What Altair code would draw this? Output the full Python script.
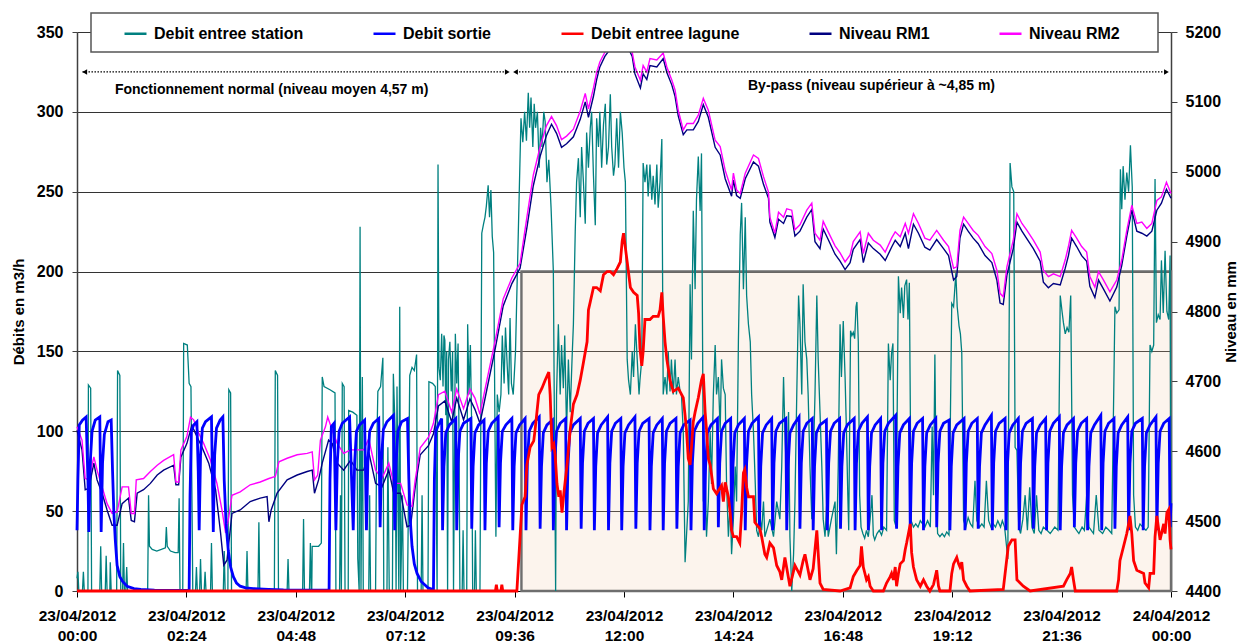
import altair as alt
import pandas as pd

FONT = "Liberation Sans"

NAMES = ["Debit entree station", "Debit sortie", "Debit entree lagune", "Niveau RM1", "Niveau RM2"]
COLORS = ["#008080", "#0000FF", "#FF0000", "#000080", "#FF00FF"]

# hours since 23/04/2012 00:00 , value
STATION = [
    (0.00, 8), (0.02, 12), (0.04, 0), (0.12, 0), (0.14, 12), (0.16, 0), (0.24, 0), (0.25, 129), (0.30, 127), (0.32, 0),
    (0.50, 0), (0.52, 28), (0.54, 0), (0.62, 0), (0.64, 22), (0.66, 0), (0.72, 0), (0.73, 18), (0.75, 0), (0.87, 0),
    (0.89, 138), (0.94, 135), (0.96, 0), (1.00, 0), (1.02, 30), (1.04, 0), (1.07, 0), (1.09, 15), (1.11, 0), (1.55, 0),
    (1.57, 60), (1.59, 28), (1.65, 26), (1.75, 25), (1.85, 26), (1.94, 27), (1.96, 40), (1.98, 28), (2.05, 25), (2.15, 24),
    (2.22, 24), (2.24, 58), (2.26, 0), (2.32, 0), (2.34, 155), (2.42, 154), (2.46, 130), (2.50, 128), (2.54, 0), (2.60, 0),
    (2.62, 15), (2.64, 0), (2.69, 0), (2.71, 20), (2.73, 0), (2.79, 0), (2.81, 12), (2.83, 0), (2.93, 0), (2.95, 30),
    (2.97, 0), (3.21, 0), (3.23, 25), (3.25, 0), (3.31, 0), (3.33, 126), (3.37, 124), (3.39, 0), (3.71, 0), (3.73, 25),
    (3.75, 0), (3.97, 0), (3.99, 43), (4.01, 0), (4.33, 0), (4.35, 138), (4.40, 135), (4.42, 0), (4.61, 0), (4.63, 20),
    (4.65, 0), (4.95, 0), (4.97, 45), (4.99, 0), (5.10, 0), (5.12, 30), (5.14, 0), (5.15, 0), (5.16, 28), (5.30, 28),
    (5.36, 30), (5.38, 134), (5.42, 128), (5.55, 126), (5.66, 124), (5.68, 0), (5.76, 0), (5.78, 60), (5.80, 0), (5.82, 130),
    (5.86, 128), (5.88, 0), (5.95, 0), (5.96, 113), (6.05, 112), (6.14, 110), (6.16, 20), (6.19, 0), (6.21, 228), (6.23, 0),
    (6.26, 134), (6.28, 0), (6.40, 0), (6.42, 60), (6.44, 0), (6.55, 0), (6.57, 80), (6.60, 125), (6.66, 128), (6.71, 146),
    (6.73, 0), (6.80, 0), (6.82, 90), (6.85, 0), (6.92, 0), (6.94, 136), (6.98, 100), (7.00, 0), (7.02, 128), (7.06, 0),
    (7.08, 178), (7.10, 0), (7.14, 60), (7.16, 0), (7.25, 0), (7.30, 135), (7.35, 140), (7.40, 138), (7.45, 148), (7.47, 0),
    (7.55, 0), (7.57, 60), (7.59, 0), (7.70, 0), (7.72, 131), (7.80, 130), (7.86, 128), (7.90, 0), (7.92, 267), (7.94, 140),
    (7.97, 132), (8.00, 161), (8.03, 128), (8.05, 160), (8.07, 157), (8.09, 110), (8.11, 150), (8.13, 0), (8.15, 145), (8.18, 156),
    (8.21, 125), (8.24, 150), (8.26, 0), (8.30, 161), (8.33, 130), (8.36, 155), (8.38, 100), (8.40, 0), (8.45, 0), (8.47, 38),
    (8.49, 0), (8.55, 0), (8.57, 167), (8.60, 123), (8.63, 154), (8.66, 100), (8.68, 0), (8.72, 0), (8.74, 38), (8.76, 0),
    (8.84, 0), (8.88, 224), (8.92, 230), (8.95, 234), (8.98, 241), (9.02, 254), (9.05, 234), (9.08, 251), (9.11, 222), (9.14, 212),
    (9.17, 100), (9.19, 34), (9.22, 123), (9.26, 112), (9.30, 123), (9.33, 160), (9.37, 130), (9.40, 165), (9.44, 140), (9.47, 123),
    (9.50, 171), (9.53, 130), (9.57, 123), (9.62, 150), (9.74, 296), (9.78, 281), (9.82, 300), (9.86, 282), (9.90, 312), (9.93, 290),
    (9.96, 309), (10.00, 278), (10.03, 305), (10.06, 290), (10.10, 300), (10.14, 265), (10.17, 290), (10.20, 278), (10.24, 300), (10.27, 294),
    (10.31, 256), (10.35, 270), (10.40, 240), (10.45, 200), (10.50, 0), (10.52, 123), (10.56, 167), (10.60, 123), (10.63, 154), (10.67, 127),
    (10.70, 160), (10.74, 100), (10.78, 145), (10.82, 112), (10.86, 145), (10.89, 167), (10.93, 225), (10.96, 256), (11.00, 271), (11.04, 234),
    (11.07, 278), (11.11, 256), (11.15, 230), (11.18, 287), (11.22, 265), (11.26, 290), (11.29, 300), (11.33, 260), (11.37, 229), (11.40, 296),
    (11.44, 278), (11.47, 300), (11.51, 265), (11.55, 292), (11.59, 305), (11.62, 267), (11.66, 278), (11.70, 311), (11.73, 278), (11.77, 260),
    (11.80, 267), (11.84, 296), (11.88, 265), (11.92, 300), (11.96, 287), (12.00, 265), (12.03, 256), (12.07, 145), (12.10, 132), (12.14, 123),
    (12.18, 150), (12.21, 134), (12.25, 167), (12.29, 145), (12.33, 123), (12.35, 132), (12.39, 145), (12.42, 268), (12.46, 256), (12.50, 267),
    (12.53, 247), (12.57, 267), (12.61, 245), (12.64, 260), (12.68, 242), (12.72, 267), (12.75, 240), (12.79, 256), (12.83, 283), (12.86, 123),
    (12.90, 134), (12.94, 123), (12.97, 150), (13.01, 125), (13.04, 145), (13.08, 123), (13.12, 145), (13.15, 123), (13.19, 134), (13.23, 125),
    (13.26, 123), (13.30, 100), (13.34, 18), (13.37, 34), (13.41, 56), (13.45, 192), (13.48, 145), (13.52, 238), (13.56, 189), (13.59, 245),
    (13.63, 272), (13.67, 238), (13.70, 274), (13.73, 123), (13.74, 56), (13.78, 78), (13.81, 34), (13.85, 56), (13.89, 100), (13.92, 67),
    (13.96, 123), (14.00, 154), (14.03, 123), (14.07, 134), (14.11, 100), (14.14, 145), (14.18, 127), (14.22, 123), (14.25, 67), (14.29, 34),
    (14.33, 56), (14.36, 23), (14.40, 45), (14.44, 78), (14.47, 56), (14.51, 157), (14.55, 223), (14.58, 243), (14.62, 189), (14.66, 234),
    (14.69, 185), (14.73, 167), (14.77, 156), (14.80, 123), (14.84, 100), (14.88, 67), (14.91, 38), (14.95, 34), (14.99, 45), (15.02, 38),
    (15.06, 56), (15.09, 34), (15.13, 38), (15.20, 45), (15.28, 34), (15.35, 56), (15.42, 45), (15.46, 78), (15.50, 134), (15.53, 100),
    (15.57, 67), (15.61, 112), (15.64, 34), (15.68, 0), (15.72, 23), (15.75, 56), (15.79, 123), (15.83, 185), (15.86, 167), (15.90, 123),
    (15.93, 192), (15.97, 156), (16.01, 145), (16.04, 123), (16.08, 78), (16.12, 45), (16.15, 78), (16.19, 123), (16.23, 185), (16.26, 145),
    (16.30, 112), (16.34, 78), (16.37, 45), (16.41, 34), (16.45, 56), (16.48, 34), (16.55, 45), (16.63, 56), (16.66, 23), (16.70, 78),
    (16.74, 167), (16.77, 134), (16.81, 169), (16.85, 134), (16.88, 100), (16.91, 60), (16.93, 38), (16.97, 163), (17.00, 160), (17.03, 162),
    (17.06, 158), (17.09, 178), (17.11, 181), (17.14, 156), (17.17, 60), (17.20, 40), (17.24, 36), (17.28, 33), (17.32, 38), (17.36, 34),
    (17.40, 45), (17.44, 60), (17.47, 35), (17.50, 32), (17.55, 36), (17.60, 38), (17.65, 35), (17.70, 40), (17.76, 38), (17.80, 155),
    (17.84, 132), (17.87, 149), (17.90, 155), (17.93, 44), (17.97, 40), (18.02, 197), (18.06, 174), (18.09, 190), (18.13, 171), (18.16, 191),
    (18.20, 195), (18.23, 170), (18.26, 193), (18.30, 44), (18.35, 40), (18.40, 42), (18.45, 40), (18.50, 44), (18.55, 42), (18.60, 40),
    (18.66, 44), (18.72, 40), (18.76, 103), (18.79, 60), (18.82, 148), (18.85, 60), (18.88, 36), (18.93, 34), (18.98, 36), (19.03, 34),
    (19.08, 37), (19.13, 35), (19.19, 180), (19.23, 178), (19.28, 199), (19.31, 178), (19.35, 166), (19.38, 161), (19.41, 149), (19.45, 44),
    (19.50, 40), (19.55, 46), (19.60, 42), (19.65, 40), (19.70, 69), (19.74, 44), (19.80, 40), (19.85, 42), (19.90, 40), (19.95, 69),
    (20.00, 44), (20.05, 40), (20.10, 42), (20.15, 40), (20.20, 44), (20.26, 40), (20.30, 44), (20.35, 40), (20.42, 20), (20.47, 268),
    (20.51, 253), (20.55, 250), (20.58, 90), (20.62, 88), (20.66, 40), (20.70, 36), (20.75, 45), (20.80, 60), (20.85, 38), (20.90, 65),
    (20.95, 40), (21.00, 36), (21.05, 60), (21.10, 38), (21.15, 36), (21.20, 40), (21.28, 38), (21.35, 36), (21.45, 40), (21.52, 38),
    (21.57, 185), (21.61, 175), (21.64, 168), (21.68, 161), (21.72, 165), (21.76, 162), (21.80, 185), (21.84, 60), (21.88, 40), (21.93, 38),
    (21.98, 36), (22.05, 40), (22.10, 38), (22.15, 60), (22.20, 40), (22.25, 38), (22.30, 36), (22.36, 60), (22.42, 38), (22.50, 36),
    (22.57, 40), (22.64, 38), (22.70, 36), (22.77, 178), (22.81, 174), (22.86, 176), (22.89, 264), (22.92, 239), (22.95, 266), (22.99, 245),
    (23.03, 262), (23.07, 250), (23.11, 279), (23.15, 253), (23.18, 60), (23.22, 40), (23.27, 38), (23.32, 42), (23.38, 40), (23.45, 38),
    (23.50, 40), (23.54, 154), (23.58, 150), (23.62, 154), (23.65, 258), (23.68, 168), (23.72, 173), (23.76, 170), (23.79, 207), (23.83, 174),
    (23.87, 213), (23.91, 175), (23.95, 170), (23.98, 210), (24.00, 40),
]

SORTIE = [
    (0.00, 38), (0.02, 70), (0.05, 104), (0.12, 107), (0.20, 109), (0.24, 70), (0.26, 37), (0.29, 80), (0.33, 100), (0.40, 107),
    (0.50, 109), (0.53, 37), (0.56, 80), (0.60, 98), (0.68, 106), (0.75, 107), (0.78, 75), (0.81, 48), (0.84, 32), (0.88, 16),
    (0.94, 9), (1.00, 6), (1.10, 3), (1.25, 1.5), (1.40, 1.0), (1.70, 0.6), (2.00, 0.4), (2.44, 0.3),
    (2.46, 0.3), (2.48, 60), (2.51, 100), (2.56, 104), (2.63, 106), (2.66, 75), (2.68, 38), (2.71, 85), (2.75, 102), (2.82, 106),
    (2.95, 109), (2.99, 37), (3.02, 85), (3.06, 102), (3.14, 107), (3.20, 109), (3.23, 69), (3.27, 42), (3.32, 25), (3.37, 15),
    (3.43, 9), (3.50, 5), (3.58, 3), (3.70, 2), (3.87, 1.5), (4.20, 1.0), (4.53, 0.7), (5.51, 0.6),
    (5.53, 0.6), (5.55, 70), (5.58, 103), (5.64, 105), (5.68, 38), (5.71, 80), (5.75, 100), (5.82, 105), (5.98, 109), (6.06, 38),
    (6.09, 80), (6.13, 100), (6.20, 104), (6.31, 107), (6.35, 38), (6.38, 80), (6.42, 100), (6.50, 105), (6.62, 108), (6.65, 40),
    (6.68, 82), (6.72, 101), (6.80, 106), (6.94, 110), (6.97, 38), (7.00, 80), (7.04, 100), (7.12, 106), (7.25, 108), (7.28, 70),
    (7.31, 45), (7.35, 28), (7.40, 17), (7.46, 11), (7.55, 6), (7.70, 2), (7.80, 1.0),
    (7.82, 1.0), (7.84, 70), (7.87, 100), (7.93, 104), (8.00, 108),
    (8.02, 38), (8.05, 78), (8.09, 99), (8.17, 104), (8.31, 108),
    (8.33, 38), (8.36, 80), (8.40, 100), (8.48, 105), (8.64, 108),
    (8.66, 39), (8.69, 78), (8.73, 99), (8.81, 104), (8.93, 107),
    (8.95, 38), (8.98, 80), (9.02, 100), (9.10, 105), (9.24, 109),
    (9.26, 40), (9.29, 80), (9.33, 100), (9.41, 104), (9.54, 108),
    (9.56, 38), (9.59, 78), (9.63, 99), (9.71, 104), (9.83, 108),
    (9.85, 38), (9.88, 80), (9.92, 100), (10.00, 105), (10.14, 109),
    (10.16, 39), (10.19, 78), (10.23, 99), (10.31, 104), (10.43, 107),
    (10.45, 38), (10.48, 80), (10.52, 100), (10.60, 105), (10.72, 108),
    (10.74, 38), (10.77, 78), (10.81, 99), (10.89, 104), (11.04, 108),
    (11.06, 39), (11.09, 80), (11.13, 100), (11.21, 105), (11.33, 108),
    (11.35, 38), (11.38, 78), (11.42, 99), (11.50, 104), (11.64, 109),
    (11.66, 38), (11.69, 80), (11.73, 100), (11.81, 105), (11.93, 108),
    (11.95, 38), (11.98, 78), (12.02, 99), (12.10, 104), (12.24, 109),
    (12.26, 39), (12.29, 80), (12.33, 100), (12.41, 105), (12.55, 108),
    (12.57, 38), (12.60, 78), (12.64, 99), (12.72, 104), (12.84, 108),
    (12.86, 38), (12.89, 80), (12.93, 100), (13.01, 105), (13.14, 108),
    (13.16, 39), (13.19, 78), (13.23, 99), (13.31, 104), (13.45, 107),
    (13.47, 38), (13.50, 80), (13.54, 100), (13.62, 105), (13.74, 109),
    (13.76, 38), (13.79, 78), (13.83, 99), (13.91, 104), (14.05, 108),
    (14.07, 40), (14.10, 80), (14.14, 100), (14.22, 105), (14.34, 108),
    (14.36, 38), (14.39, 78), (14.43, 99), (14.51, 104), (14.64, 108),
    (14.66, 38), (14.69, 80), (14.73, 100), (14.81, 105), (14.95, 109),
    (14.97, 39), (15.00, 78), (15.04, 99), (15.12, 104), (15.24, 108),
    (15.26, 38), (15.29, 80), (15.33, 100), (15.41, 105), (15.55, 108),
    (15.57, 38), (15.60, 78), (15.64, 99), (15.72, 104), (15.84, 109),
    (15.86, 39), (15.89, 80), (15.93, 100), (16.01, 105), (16.13, 108),
    (16.15, 38), (16.18, 78), (16.22, 99), (16.30, 104), (16.44, 107),
    (16.46, 38), (16.49, 80), (16.53, 100), (16.61, 105), (16.73, 108),
    (16.75, 39), (16.78, 78), (16.82, 99), (16.90, 104), (17.05, 108),
    (17.07, 38), (17.10, 80), (17.14, 100), (17.22, 105), (17.34, 109),
    (17.36, 38), (17.39, 78), (17.43, 99), (17.51, 104), (17.63, 108),
    (17.65, 38), (17.68, 80), (17.72, 100), (17.80, 105), (17.96, 110),
    (17.98, 39), (18.01, 78), (18.05, 99), (18.13, 104), (18.26, 108),
    (18.28, 38), (18.31, 80), (18.35, 100), (18.43, 105), (18.55, 108),
    (18.57, 38), (18.60, 78), (18.64, 99), (18.72, 104), (18.84, 108),
    (18.86, 40), (18.89, 80), (18.93, 100), (19.01, 105), (19.13, 107),
    (19.15, 38), (19.18, 78), (19.22, 99), (19.30, 104), (19.46, 108),
    (19.48, 38), (19.51, 80), (19.55, 100), (19.63, 105), (19.75, 108),
    (19.77, 39), (19.80, 78), (19.84, 99), (19.92, 104), (20.06, 110),
    (20.08, 38), (20.11, 80), (20.15, 100), (20.23, 105), (20.36, 108),
    (20.38, 38), (20.41, 78), (20.45, 99), (20.53, 104), (20.65, 108),
    (20.67, 38), (20.70, 80), (20.74, 100), (20.82, 105), (20.96, 108),
    (20.98, 39), (21.01, 78), (21.05, 99), (21.13, 104), (21.25, 108),
    (21.27, 38), (21.30, 80), (21.34, 100), (21.42, 105), (21.55, 109),
    (21.57, 38), (21.60, 78), (21.64, 99), (21.72, 104), (21.86, 108),
    (21.88, 40), (21.91, 80), (21.95, 100), (22.03, 105), (22.15, 108),
    (22.17, 38), (22.20, 78), (22.24, 99), (22.32, 104), (22.46, 110),
    (22.48, 38), (22.51, 80), (22.55, 100), (22.63, 105), (22.75, 108),
    (22.77, 39), (22.80, 78), (22.84, 99), (22.92, 104), (23.05, 109),
    (23.07, 38), (23.10, 80), (23.14, 100), (23.22, 105), (23.37, 108),
    (23.39, 38), (23.42, 78), (23.46, 99), (23.54, 104), (23.67, 109),
    (23.69, 38), (23.72, 80), (23.76, 100), (23.84, 105), (23.96, 108),
    (23.98, 40), (24.00, 55),
]

LAGUNE = [
    (0.00, 0), (9.18, 0), (9.20, 4), (9.22, 0), (9.30, 0), (9.32, 4), (9.34, 0), (9.65, 0), (9.72, 34), (9.76, 54),
    (9.83, 59), (9.87, 79), (9.94, 90), (10.02, 94), (10.05, 101), (10.13, 123), (10.20, 127), (10.27, 132), (10.35, 137), (10.38, 123),
    (10.42, 90), (10.46, 92), (10.49, 85), (10.53, 67), (10.57, 59), (10.60, 63), (10.64, 49), (10.68, 61), (10.75, 79), (10.82, 101),
    (10.89, 117), (10.97, 123), (11.04, 132), (11.11, 143), (11.19, 156), (11.22, 176), (11.26, 181), (11.33, 190), (11.40, 190), (11.48, 188),
    (11.55, 198), (11.63, 200), (11.70, 200), (11.77, 198), (11.85, 202), (11.92, 206), (11.96, 219), (11.99, 224), (12.03, 215), (12.07, 206),
    (12.14, 190), (12.21, 187), (12.29, 185), (12.32, 174), (12.35, 152), (12.39, 141), (12.42, 150), (12.46, 170), (12.57, 170), (12.64, 172),
    (12.75, 172), (12.79, 176), (12.83, 187), (12.86, 172), (12.90, 156), (12.94, 145), (13.01, 132), (13.08, 125), (13.19, 127), (13.30, 121),
    (13.34, 110), (13.37, 101), (13.41, 83), (13.45, 79), (13.48, 90), (13.52, 106), (13.56, 112), (13.63, 121), (13.70, 132), (13.74, 136),
    (13.78, 112), (13.81, 101), (13.85, 83), (13.89, 79), (13.92, 73), (13.96, 64), (14.03, 61), (14.14, 66), (14.18, 56), (14.22, 68),
    (14.29, 59), (14.33, 49), (14.36, 38), (14.40, 34), (14.47, 34), (14.54, 30), (14.58, 49), (14.62, 74), (14.65, 76), (14.69, 65),
    (14.73, 59), (14.84, 59), (14.87, 43), (14.98, 39), (15.02, 34), (15.09, 23), (15.13, 21), (15.20, 30), (15.28, 27), (15.35, 16),
    (15.42, 12), (15.46, 7), (15.53, 21), (15.64, 3), (15.75, 16), (15.86, 10), (15.93, 19), (15.97, 23), (16.08, 7), (16.15, 14),
    (16.23, 38), (16.30, 5), (16.37, 1), (16.74, 0), (16.96, 2), (17.03, 9), (17.11, 13), (17.18, 16), (17.21, 28), (17.25, 15),
    (17.32, 7), (17.36, 9), (17.40, 3), (17.47, 0), (17.69, 0), (17.76, 5), (17.84, 9), (17.87, 11), (17.91, 7), (17.95, 15),
    (17.98, 3), (18.02, 11), (18.06, 17), (18.13, 19), (18.17, 26), (18.20, 30), (18.24, 36), (18.28, 42), (18.31, 24), (18.35, 15),
    (18.42, 7), (18.50, 3), (18.57, 7), (18.64, 3), (18.71, 0), (18.79, 4), (18.86, 13), (18.90, 3), (18.93, 0), (19.15, 0),
    (19.19, 11), (19.23, 17), (19.30, 21), (19.34, 17), (19.37, 15), (19.41, 18), (19.45, 7), (19.52, 3), (19.59, 0), (20.32, 1),
    (20.43, 28), (20.51, 32), (20.58, 32), (20.62, 7), (20.69, 5), (20.76, 3), (20.91, 0), (21.64, 3), (21.71, 7), (21.79, 11),
    (21.82, 15), (21.86, 7), (21.90, 0), (22.81, 0), (22.85, 7), (22.88, 19), (22.96, 28), (23.03, 36), (23.07, 42), (23.10, 47),
    (23.14, 36), (23.18, 19), (23.25, 13), (23.40, 11), (23.43, 5), (23.51, 2), (23.54, 11), (23.62, 11), (23.65, 34), (23.69, 47),
    (23.76, 32), (23.84, 42), (23.87, 36), (23.91, 49), (23.95, 51), (23.98, 32), (24.00, 26),
]

RM1 = [
    (0.00, 4630), (0.11, 4602), (0.18, 4545), (0.26, 4547), (0.37, 4583), (0.44, 4559), (0.55, 4540), (0.66, 4516), (0.77, 4494), (0.88, 4494),
    (0.99, 4525), (1.13, 4533), (1.19, 4501), (1.26, 4499), (1.32, 4540), (1.46, 4545), (1.61, 4554), (1.76, 4566), (1.90, 4573), (2.12, 4580),
    (2.17, 4552), (2.23, 4552), (2.28, 4592), (2.41, 4611), (2.52, 4637), (2.63, 4621), (2.74, 4606), (2.89, 4583), (3.04, 4545), (3.15, 4483),
    (3.22, 4437), (3.29, 4444), (3.40, 4511), (3.58, 4516), (3.80, 4528), (4.02, 4533), (4.17, 4535), (4.21, 4499), (4.26, 4516), (4.39, 4540),
    (4.61, 4559), (4.83, 4566), (5.05, 4571), (5.16, 4573), (5.21, 4540), (5.30, 4559), (5.38, 4583), (5.52, 4616), (5.60, 4611), (5.71, 4583),
    (5.85, 4573), (6.00, 4587), (6.14, 4573), (6.29, 4573), (6.40, 4599), (6.55, 4554), (6.69, 4549), (6.84, 4573), (6.95, 4540), (7.10, 4540),
    (7.24, 4492), (7.32, 4494), (7.42, 4549), (7.53, 4595), (7.71, 4608), (7.82, 4625), (7.93, 4665), (8.07, 4672), (8.22, 4642), (8.33, 4676),
    (8.48, 4645), (8.62, 4675), (8.73, 4660), (8.84, 4640), (8.99, 4688), (9.17, 4745), (9.35, 4808), (9.54, 4840), (9.72, 4862), (9.87, 4920),
    (10.01, 4980), (10.16, 5022), (10.30, 5052), (10.41, 5068), (10.52, 5055), (10.63, 5035), (10.74, 5040), (10.89, 5050), (11.04, 5075), (11.15, 5100),
    (11.22, 5078), (11.33, 5108), (11.40, 5132), (11.47, 5150), (11.58, 5165), (11.80, 5185), (12.00, 5190), (12.18, 5165), (12.24, 5140), (12.36, 5120),
    (12.42, 5140), (12.50, 5132), (12.57, 5152), (12.72, 5150), (12.86, 5162), (12.94, 5142), (13.05, 5124), (13.12, 5108), (13.19, 5080), (13.30, 5053),
    (13.38, 5060), (13.52, 5060), (13.63, 5072), (13.74, 5096), (13.85, 5078), (14.00, 5035), (14.11, 5024), (14.22, 4990), (14.36, 4965), (14.40, 4988),
    (14.47, 4966), (14.55, 4962), (14.66, 4990), (14.84, 5014), (14.95, 5008), (15.06, 4982), (15.17, 4962), (15.20, 4928), (15.31, 4906), (15.39, 4932),
    (15.50, 4926), (15.57, 4937), (15.68, 4936), (15.75, 4908), (15.86, 4915), (16.01, 4935), (16.12, 4946), (16.19, 4900), (16.30, 4890), (16.37, 4918),
    (16.48, 4903), (16.63, 4882), (16.74, 4872), (16.85, 4860), (16.96, 4870), (17.03, 4889), (17.18, 4903), (17.25, 4870), (17.36, 4898), (17.47, 4890),
    (17.62, 4882), (17.73, 4873), (17.87, 4892), (17.95, 4902), (18.06, 4893), (18.17, 4912), (18.24, 4890), (18.35, 4925), (18.46, 4912), (18.60, 4892),
    (18.71, 4888), (18.86, 4903), (19.01, 4890), (19.12, 4880), (19.23, 4845), (19.30, 4850), (19.37, 4905), (19.45, 4925), (19.55, 4915), (19.66, 4905),
    (19.77, 4897), (19.92, 4880), (20.07, 4870), (20.18, 4845), (20.25, 4812), (20.32, 4810), (20.40, 4852), (20.54, 4890), (20.62, 4928), (20.73, 4915),
    (20.84, 4904), (20.98, 4890), (21.13, 4872), (21.20, 4842), (21.31, 4834), (21.42, 4840), (21.57, 4838), (21.68, 4862), (21.75, 4880), (21.82, 4905),
    (21.93, 4893), (22.04, 4880), (22.15, 4872), (22.22, 4836), (22.33, 4820), (22.41, 4845), (22.52, 4832), (22.66, 4815), (22.81, 4835), (22.92, 4866),
    (23.03, 4908), (23.14, 4945), (23.25, 4915), (23.36, 4912), (23.47, 4908), (23.58, 4915), (23.69, 4945), (23.79, 4955), (23.90, 4975), (24.00, 4962),
]

RM2 = [
    (0.00, 4635), (0.11, 4616), (0.18, 4561), (0.26, 4559), (0.37, 4592), (0.44, 4573), (0.55, 4549), (0.66, 4525), (0.77, 4511), (0.88, 4513),
    (0.99, 4549), (1.13, 4549), (1.19, 4511), (1.26, 4511), (1.30, 4559), (1.46, 4561), (1.61, 4571), (1.76, 4580), (1.90, 4587), (2.12, 4595),
    (2.17, 4556), (2.23, 4556), (2.28, 4602), (2.41, 4621), (2.49, 4649), (2.56, 4645), (2.67, 4626), (2.78, 4611), (2.93, 4587), (3.07, 4554),
    (3.18, 4516), (3.26, 4483), (3.33, 4506), (3.40, 4537), (3.58, 4542), (3.80, 4552), (4.02, 4556), (4.21, 4561), (4.35, 4564), (4.43, 4585),
    (4.61, 4590), (4.83, 4595), (5.05, 4597), (5.16, 4599), (5.21, 4559), (5.28, 4566), (5.34, 4616), (5.45, 4635), (5.50, 4649), (5.60, 4630),
    (5.71, 4611), (5.85, 4597), (6.00, 4602), (6.29, 4602), (6.40, 4618), (6.55, 4573), (6.69, 4561), (6.84, 4583), (6.95, 4554), (7.10, 4554),
    (7.24, 4523), (7.35, 4521), (7.42, 4559), (7.53, 4605), (7.71, 4620), (7.82, 4640), (7.93, 4681), (8.07, 4686), (8.22, 4656), (8.33, 4689),
    (8.48, 4661), (8.62, 4689), (8.73, 4676), (8.84, 4653), (8.99, 4701), (9.17, 4757), (9.35, 4818), (9.54, 4848), (9.72, 4869), (9.87, 4935),
    (10.01, 4995), (10.16, 5036), (10.30, 5066), (10.41, 5079), (10.52, 5066), (10.63, 5046), (10.74, 5051), (10.89, 5061), (11.04, 5087), (11.15, 5112),
    (11.22, 5090), (11.33, 5120), (11.40, 5142), (11.47, 5157), (11.58, 5171), (11.80, 5190), (12.00, 5195), (12.18, 5171), (12.24, 5150), (12.36, 5131),
    (12.42, 5152), (12.50, 5143), (12.57, 5162), (12.72, 5160), (12.86, 5170), (12.94, 5150), (13.05, 5131), (13.12, 5117), (13.19, 5088), (13.30, 5060),
    (13.38, 5069), (13.52, 5069), (13.63, 5081), (13.74, 5105), (13.85, 5088), (14.00, 5045), (14.11, 5036), (14.22, 5002), (14.36, 4974), (14.40, 4998),
    (14.47, 4974), (14.55, 4969), (14.66, 4998), (14.84, 5024), (14.95, 5019), (15.06, 4993), (15.17, 4971), (15.20, 4935), (15.31, 4912), (15.39, 4942),
    (15.50, 4935), (15.57, 4947), (15.68, 4945), (15.75, 4917), (15.86, 4924), (16.01, 4945), (16.12, 4955), (16.19, 4912), (16.30, 4902), (16.37, 4929),
    (16.48, 4914), (16.63, 4894), (16.74, 4884), (16.85, 4871), (16.96, 4881), (17.03, 4900), (17.18, 4914), (17.25, 4883), (17.36, 4912), (17.47, 4902),
    (17.62, 4895), (17.73, 4885), (17.87, 4905), (17.95, 4914), (18.06, 4907), (18.17, 4926), (18.24, 4912), (18.35, 4940), (18.46, 4926), (18.60, 4905),
    (18.71, 4902), (18.86, 4916), (19.01, 4902), (19.12, 4893), (19.23, 4862), (19.30, 4864), (19.37, 4916), (19.45, 4935), (19.55, 4926), (19.66, 4916),
    (19.77, 4909), (19.92, 4893), (20.07, 4883), (20.18, 4859), (20.25, 4826), (20.32, 4821), (20.40, 4864), (20.54, 4902), (20.62, 4940), (20.73, 4926),
    (20.84, 4916), (20.98, 4902), (21.13, 4885), (21.20, 4859), (21.31, 4850), (21.42, 4854), (21.57, 4850), (21.68, 4874), (21.75, 4893), (21.82, 4916),
    (21.93, 4905), (22.04, 4893), (22.15, 4885), (22.22, 4850), (22.33, 4835), (22.41, 4857), (22.52, 4845), (22.66, 4828), (22.81, 4845), (22.92, 4874),
    (23.03, 4916), (23.14, 4952), (23.25, 4926), (23.36, 4928), (23.47, 4919), (23.58, 4926), (23.69, 4959), (23.79, 4964), (23.90, 4985), (24.00, 4969),
]

# by-pass zone (hours, m3/h)
BYPASS = [(9.75, 24.0, 0, 200)]
# dotted arrows (start h, end h, level m3/h)
ARROWS = [(0.12, 9.43, 325), (9.63, 23.89, 325)]
HEADS_LEFT = [(0.17, 325), (9.62, 325)]
HEADS_RIGHT = [(9.44, 325), (23.90, 325)]
NOTES = [
    (4.27, 313.7, "Fonctionnement normal (niveau moyen 4,57 m)"),
    (17.43, 316.2, "By-pass (niveau supérieur à ~4,85 m)"),
]

X_TICKS = [0, 2.4, 4.8, 7.2, 9.6, 12, 14.4, 16.8, 19.2, 21.6, 24]
FLOW_TICKS = [0, 50, 100, 150, 200, 250, 300, 350]
LEVEL_TICKS = [4400, 4500, 4600, 4700, 4800, 4900, 5000, 5100, 5200]

W, H = 1094, 559


def frame(points, name):
    df = pd.DataFrame(points, columns=["h", "v"])
    df["serie"] = name
    return df


label_expr = (
    "[datum.value >= 24 ? '24/04/2012' : '23/04/2012', "
    "(floor(datum.value % 24) < 10 ? '0' : '') + floor(datum.value % 24) + ':' + "
    "(round((datum.value % 1) * 60) < 10 ? '0' : '') + round((datum.value % 1) * 60)]"
)

x_enc = alt.X(
    "h:Q",
    scale=alt.Scale(domain=[0, 24], nice=False, zero=False),
    axis=alt.Axis(
        values=X_TICKS, labelExpr=label_expr, grid=False, title=None,
        tickSize=6, tickColor="black", domainColor="black", domainWidth=1.2,
        labelFont=FONT, labelFontSize=15.5, labelFontWeight="bold", labelColor="black",
        labelLineHeight=19.5, labelPadding=11.5, labelFlush=False, labelOverlap=False,
    ),
)

flow_scale = alt.Scale(domain=[0, 350], nice=False, zero=False)
flow_axis = alt.Axis(
    values=FLOW_TICKS, orient="left", grid=True, gridColor="#333333", gridWidth=1,
    tickSize=5, tickColor="#404040", domainColor="#404040", domainWidth=1.5,
    labelFont=FONT, labelFontSize=16, labelFontWeight="bold", labelColor="black", labelPadding=9,
    title="Débits en m3/h", titleFont=FONT, titleFontSize=15, titleFontWeight="bold", titleColor="black",
    titleX=-59, titleY=H / 2, titleAngle=270, titleAlign="center", titleBaseline="middle",
)
level_scale = alt.Scale(domain=[4400, 5200], nice=False, zero=False)
level_axis = alt.Axis(
    values=LEVEL_TICKS, orient="right", grid=False, format="d",
    tickSize=6, tickColor="#404040", domainColor="#404040", domainWidth=1.5,
    labelFont=FONT, labelFontSize=16, labelFontWeight="bold", labelColor="black", labelPadding=8,
    title="Niveau en mm", titleFont=FONT, titleFontSize=15, titleFontWeight="bold", titleColor="black",
    titleX=59, titleY=H / 2, titleAngle=270, titleAlign="center", titleBaseline="middle",
)

legend = alt.Legend(
    title=None, orient="none", legendX=46, legendY=-11, direction="horizontal", columns=5,
    columnPadding=64, symbolType="stroke", symbolSize=484, symbolStrokeWidth=2.5,
    labelFont=FONT, labelFontSize=16, labelFontWeight="bold", labelColor="black",
    labelOffset=6, padding=0,
)
color_enc = alt.Color("serie:N", scale=alt.Scale(domain=NAMES, range=COLORS), legend=legend)

y_flow = alt.Y("v:Q", scale=flow_scale, axis=flow_axis)
y_flow_noaxis = alt.Y("v:Q", scale=flow_scale, axis=None)
y_level = alt.Y("v:Q", scale=level_scale, axis=level_axis)

bypass_df = pd.DataFrame(BYPASS, columns=["h", "h2", "v", "v2"])
bypass = alt.Chart(bypass_df).mark_rect(
    fill="#F2C9A5", fillOpacity=0.2, stroke="#6e6e6e", strokeWidth=2.4
).encode(x=x_enc, x2="h2:Q", y=y_flow, y2="v2:Q")

station = alt.Chart(frame(STATION, NAMES[0])).mark_line(strokeWidth=1.3).encode(
    x=x_enc, y=y_flow, color=color_enc, order="h:Q")

layer_a1 = alt.layer(bypass, station)

rm1 = alt.Chart(frame(RM1, NAMES[3])).mark_line(strokeWidth=1.4).encode(
    x=x_enc, y=y_level, color=color_enc, order="h:Q")
rm2 = alt.Chart(frame(RM2, NAMES[4])).mark_line(strokeWidth=1.4).encode(
    x=x_enc, y=y_level, color=color_enc, order="h:Q")
layer_b = alt.layer(rm1, rm2)

sortie = alt.Chart(frame(SORTIE, NAMES[1])).mark_line(strokeWidth=2.8).encode(
    x=x_enc, y=y_flow_noaxis, color=color_enc, order="h:Q")
lagune = alt.Chart(frame(LAGUNE, NAMES[2])).mark_line(strokeWidth=2.8).encode(
    x=x_enc, y=y_flow_noaxis, color=color_enc, order="h:Q")

arrows_df = pd.DataFrame(ARROWS, columns=["h", "h2", "v"])
arrows = alt.Chart(arrows_df).mark_rule(color="black", strokeWidth=1.3, strokeDash=[1.5, 1.5]).encode(
    x=x_enc, x2="h2:Q", y=y_flow_noaxis)
heads_l = alt.Chart(pd.DataFrame(HEADS_LEFT, columns=["h", "v"])).mark_point(
    shape="triangle-left", filled=True, color="black", size=30, opacity=1).encode(x=x_enc, y=y_flow_noaxis)
heads_r = alt.Chart(pd.DataFrame(HEADS_RIGHT, columns=["h", "v"])).mark_point(
    shape="triangle-right", filled=True, color="black", size=30, opacity=1).encode(x=x_enc, y=y_flow_noaxis)
notes = alt.Chart(pd.DataFrame(NOTES, columns=["h", "v", "t"])).mark_text(
    font=FONT, fontSize=14, fontWeight="bold", color="black", align="center", baseline="middle"
).encode(x=x_enc, y=y_flow_noaxis, text="t:N")

legend_box = alt.Chart(pd.DataFrame({"k": [0]})).mark_rect(
    fill="white", stroke="#555555", strokeWidth=1.5
).encode(x=alt.value(14), x2=alt.value(1081), y=alt.value(-19), y2=alt.value(20))

layer_a2 = alt.layer(sortie, lagune, arrows, heads_l, heads_r, notes, legend_box)

chart = alt.layer(layer_a1, layer_b, layer_a2).resolve_scale(y="independent").properties(
    width=W, height=H,
    autosize=alt.AutoSizeParams(type="none"),
    padding={"left": 69, "top": 24, "right": 66, "bottom": 53},
    background="white",
).configure_view(stroke=None).configure(font=FONT)

chart.save("out.html", embed_options={"renderer": "svg", "actions": False})
